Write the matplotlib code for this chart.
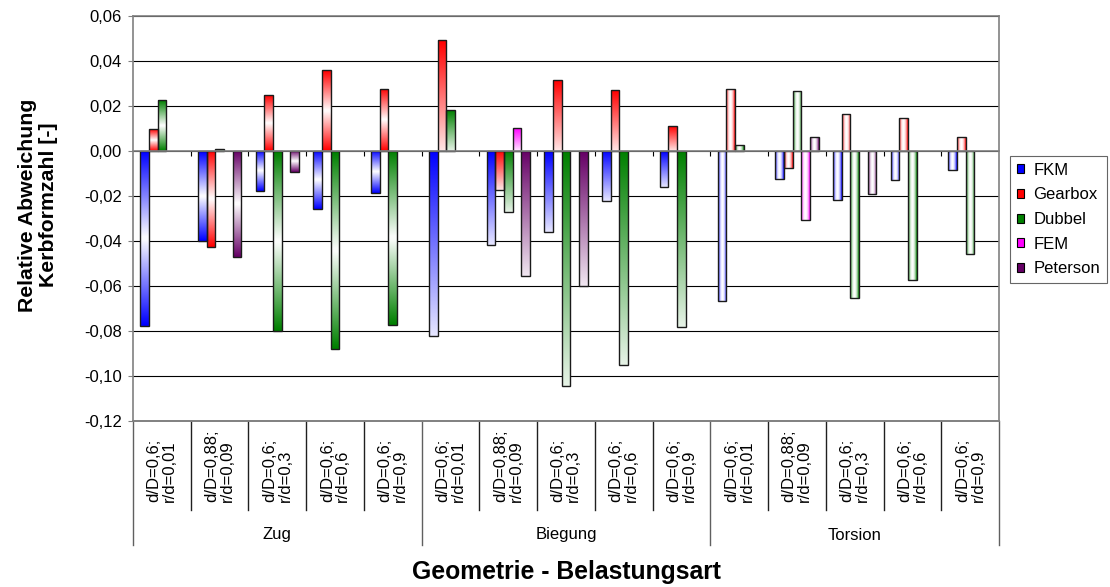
import numpy as np
import matplotlib
matplotlib.use("Agg")
import matplotlib.pyplot as plt
from matplotlib.patches import Patch
from matplotlib.lines import Line2D
from matplotlib.transforms import blended_transform_factory
from matplotlib.colors import to_rgb

plt.rcParams['font.family'] = ['Liberation Sans', 'DejaVu Sans']

nan = np.nan
geom_labels = ["d/D=0,6;\nr/d=0,01", "d/D=0,88;\nr/d=0,09", "d/D=0,6;\nr/d=0,3",
               "d/D=0,6;\nr/d=0,6", "d/D=0,6;\nr/d=0,9"]
groups = ["Zug", "Biegung", "Torsion"]
series_names = ["FKM", "Gearbox", "Dubbel", "FEM", "Peterson"]
series_colors = ["#0000FF", "#FF0000", "#008000", "#FF00FF", "#660066"]

fkm = [-0.078, -0.040, -0.018, -0.026, -0.019,
       -0.0825, -0.042, -0.036, -0.0225, -0.016,
       -0.067, -0.0127, -0.022, -0.0132, -0.0087]
gearbox = [0.0095, -0.043, 0.0247, 0.036, 0.0276,
           0.049, -0.0176, 0.0313, 0.0268, 0.011,
           0.0276, -0.0079, 0.0161, 0.0147, 0.0062]
dubbel = [0.0224, 0.0009, -0.080, -0.088, -0.0775,
          0.0182, -0.0273, -0.1047, -0.0953, -0.0782,
          0.0027, 0.0265, -0.0656, -0.0576, -0.0459]
fem = [nan, nan, nan, nan, nan,
       nan, 0.0099, nan, nan, nan,
       nan, -0.0308, nan, nan, nan]
peterson = [nan, -0.0474, -0.0096, nan, nan,
            nan, -0.0557, -0.060, nan, nan,
            nan, 0.0062, -0.0194, nan, nan]
series_values = [fkm, gearbox, dubbel, fem, peterson]

yticks = [0.06, 0.04, 0.02, 0.0, -0.02, -0.04, -0.06, -0.08, -0.10, -0.12]

SMALL = 12
fig = plt.figure(figsize=(11.10, 5.87), dpi=100)
ax = fig.add_axes([133/1110, 1-420.7/587, (999-133)/1110, 405/587])

ncat = len(geom_labels) * len(groups)
x = np.arange(ncat) + 0.5
bw = 0.15

def grad_image(style, rgb, n=64):
    c = np.array(rgb)
    w = np.ones(3)
    if style == 0:   # Zug: colour at both ends, white in middle (vertical)
        t = np.linspace(0, 1, n)
        mix = np.abs(2*t - 1)
        img = w[None, :]*(1-mix[:, None]) + c[None, :]*mix[:, None]
        return img[:, None, :]
    elif style == 1:  # Biegung: colour at top to white at bottom
        t = np.linspace(0, 1, n)
        mix = 1 - 0.9*t
        img = w[None, :]*(1-mix[:, None]) + c[None, :]*mix[:, None]
        return img[:, None, :]
    else:            # Torsion: colour at left/right edges, white in centre
        s = np.linspace(0, 1, n)
        mix = np.abs(2*s - 1)**2.0
        img = w[None, :]*(1-mix[:, None]) + c[None, :]*mix[:, None]
        return img[None, :, :]

for k, (vals, col) in enumerate(zip(series_values, series_colors)):
    bars = ax.bar(x + (k-2)*bw, vals, width=bw, facecolor='none',
                  edgecolor='#1a1a1a', linewidth=1.0, zorder=4)
    rgb = to_rgb(col)
    for i, p in enumerate(bars.patches):
        if np.isnan(vals[i]):
            continue
        x0, y0 = p.get_x(), p.get_y()
        x1, y1 = x0 + p.get_width(), y0 + p.get_height()
        ylo, yhi = min(y0, y1), max(y0, y1)
        style = i // len(geom_labels)
        im = ax.imshow(grad_image(style, rgb), extent=(x0, x1, ylo, yhi),
                       aspect='auto', origin='upper', zorder=3,
                       interpolation='bilinear')
        im.set_clip_path(p)

ax.set_xlim(0, ncat)
ax.set_ylim(-0.12, 0.06)
ax.set_yticks(yticks)
ax.set_yticklabels([("%.2f" % v).replace('.', ',') for v in yticks], fontsize=SMALL)
ax.yaxis.grid(True, color='black', linewidth=0.8, zorder=1)
ax.set_axisbelow(True)

ax.spines['bottom'].set_position(('data', 0))
for s in ['bottom', 'top', 'left', 'right']:
    ax.spines[s].set_color('#808080')
    ax.spines[s].set_linewidth(1.2)
ax.spines['bottom'].set_zorder(5)
ax.set_xticks(np.arange(1, ncat))
ax.set_xticklabels([])
ax.tick_params(axis='x', direction='out', length=3.6, color='#000000', width=0.8)
ax.tick_params(axis='y', direction='out', length=3.6, color='#808080', pad=4.3)
ax.axhline(-0.12, color='#808080', linewidth=1.4, zorder=5, clip_on=False)

# category labels below the plot
tr = blended_transform_factory(ax.transData, fig.transFigure)
for i in range(ncat):
    ax.text(x[i], 1-502/587, geom_labels[i % len(geom_labels)], rotation=90,
            ha='center', va='bottom', multialignment='left', fontsize=SMALL,
            transform=tr, linespacing=1.05)
for i in range(ncat+1):
    glen = (i % len(geom_labels) == 0)
    ybot = 1-545/587 if glen else 1-510/587
    ax.add_line(Line2D([i, i], [1-420.7/587, ybot], transform=tr,
                       color='#606060' if glen else '#202020', linewidth=1.0,
                       clip_on=False))
for g, name in enumerate(groups):
    ax.text(g*len(geom_labels) + len(geom_labels)/2, 1-535/587, name,
            ha='center', va='center', fontsize=SMALL, transform=tr)

fig.text(566/1110, 1-572/587, "Geometrie - Belastungsart", ha='center', va='center',
         fontsize=17.8, fontweight='bold')
fig.text(38/1110, 1-205/587, "Relative Abweichung\nKerbformzahl [-]", ha='center',
         va='center', rotation=90, multialignment='center', fontsize=15.3,
         fontweight='bold', linespacing=1.1)

handles = [Patch(facecolor=c, edgecolor='black', linewidth=0.8) for c in series_colors]
leg = fig.legend(handles, series_names, loc='upper left',
                 bbox_to_anchor=(1010/1110, 1-156/587), borderaxespad=0,
                 fontsize=SMALL, frameon=True, fancybox=False, shadow=False,
                 handlelength=0.45, handleheight=0.45, handletextpad=0.55,
                 labelspacing=0.58, borderpad=0.4)
leg.get_frame().set_edgecolor('#404040')
leg.get_frame().set_linewidth(0.8)

fig.savefig("out.png", dpi=100)
